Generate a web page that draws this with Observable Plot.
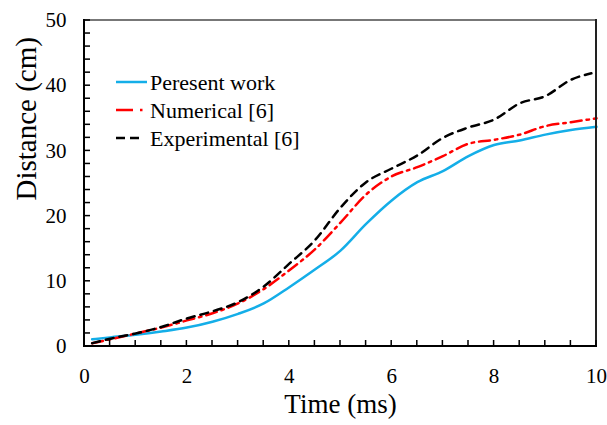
<!DOCTYPE html>
<html>
<head>
<meta charset="utf-8">
<script src="https://cdn.jsdelivr.net/npm/d3@7"></script>
<script src="https://cdn.jsdelivr.net/npm/@observablehq/plot@0.6"></script>
<style>
  html, body { margin: 0; padding: 0; background: #fff; }
</style>
</head>
<body>
<div id="chart"></div>
<script>
// ---- data ----
const seriesNames = ["Peresent work", "Numerical [6]", "Experimental [6]"];

const presentTime = [0.15, 0.5, 1, 1.5, 2, 2.5, 3, 3.5, 4, 4.5, 5, 5.5, 6, 6.5, 7, 7.5, 8, 8.5, 9, 9.5, 10];
const presentDist = [1.1, 1.4, 1.8, 2.3, 2.9, 3.8, 5.0, 6.6, 9.1, 11.8, 14.7, 18.8, 22.4, 25.2, 26.9, 29.2, 30.9, 31.6, 32.5, 33.2, 33.7];

const numericalTime = [0.15, 0.5, 1, 1.5, 2, 2.5, 3, 3.5, 4, 4.5, 5, 5.5, 6, 6.5, 7, 7.5, 8, 8.5, 9, 9.5, 10];
const numericalDist = [0.5, 1.1, 2.0, 2.9, 4.0, 5.1, 6.6, 8.8, 11.7, 14.9, 19.0, 23.3, 26.1, 27.5, 29.2, 31.1, 31.7, 32.5, 33.8, 34.4, 35.0];

const experimentalTime = [0.15, 0.5, 1, 1.5, 2, 2.5, 3, 3.5, 4, 4.5, 5, 5.5, 6, 6.5, 7, 7.5, 8, 8.5, 9, 9.5, 9.9];
const experimentalDist = [0.5, 1.2, 2.0, 3.0, 4.3, 5.4, 6.8, 9.2, 12.7, 16.3, 21.3, 25.2, 27.3, 29.3, 32.0, 33.6, 34.8, 37.3, 38.4, 40.9, 41.9];

const xTicks = [0, 2, 4, 6, 8, 10];
const yTicks = [0, 10, 20, 30, 40, 50];
const xMinor = d3.range(0, 10.01, 0.5);
const yMinor = d3.range(0, 50.01, 2);
const xLabel = "Time (ms)";
const yLabel = "Distance (cm)";

// ---- table ----
const toRows = (ts, vs) => ts.map((t, i) => ({t, d: vs[i]}));
const present = toRows(presentTime, presentDist);
const numerical = toRows(numericalTime, numericalDist);
const experimental = toRows(experimentalTime, experimentalDist);

// ---- layout ----
const W = 607, H = 425;
const mL = 84, mR = 11, mT = 20, mB = 79;
const font = "'Liberation Serif', 'Times New Roman', serif";
const xDomain = [0, 10], yDomain = [0, 50];

const blue = "#14aee8", red = "#ff0000", black = "#000000";

const chart = Plot.plot({
  width: W,
  height: H,
  marginLeft: mL,
  marginRight: mR,
  marginTop: mT,
  marginBottom: mB,
  style: {fontFamily: font, fontSize: "21px", color: "#000", background: "#fff"},
  x: {domain: xDomain},
  y: {domain: yDomain},
  marks: [
    Plot.line(present, {x: "t", y: "d", stroke: blue, strokeWidth: 2.5, curve: "monotone-x"}),
    Plot.line(numerical, {x: "t", y: "d", stroke: red, strokeWidth: 2.5, strokeDasharray: "11,5,2.5,5", curve: "monotone-x"}),
    Plot.line(experimental, {x: "t", y: "d", stroke: black, strokeWidth: 2.5, strokeDasharray: "8,6", curve: "monotone-x"}),
    Plot.axisX({ticks: xTicks, tickSize: 0, tickPadding: 22, label: null, fontSize: 21}),
    Plot.axisY({ticks: yTicks, tickSize: 0, tickPadding: 18, label: null, fontSize: 21}),
    Plot.text([xLabel], {frameAnchor: "bottom", dy: 66, fontSize: 27, text: d => d}),
    Plot.text([yLabel], {frameAnchor: "left", dx: -58, dy: 17, rotate: -90, fontSize: 29, text: d => d})
  ]
});

// frame, axis lines and inward ticks as thin filled rectangles, placed with scales matching Plot's
const X = d3.scaleLinear(xDomain, [mL, W - mR]);
const Y = d3.scaleLinear(yDomain, [H - mB, mT]);
const root = d3.select(chart);
const bar = (x, y, w, h, color) =>
  root.append("rect").attr("x", x).attr("y", y).attr("width", w).attr("height", h)
    .attr("fill", color).attr("stroke", "none");

const L = X(xDomain[0]), R = X(xDomain[1]), T = Y(yDomain[1]), B = Y(yDomain[0]);
bar(L, T - 1, R - L + 1, 2, "#777");          // top border
bar(R - 1, T - 1, 2, B - T + 2, "#222");      // right border
for (const v of yMinor) bar(L, Y(v) - 0.75, 6, 1.5, "#000");
for (const v of xMinor) bar(X(v) - 0.75, B - 6, 1.5, 6, "#000");
bar(L - 1, T - 1, 2, B - T + 2, "#000");      // left axis
bar(L - 1, B - 1, R - L + 2, 2, "#000");      // bottom axis

// legend inside the plot
const legendItems = [
  {name: seriesNames[0], color: blue, x2: 147, dash: null, y: 82},
  {name: seriesNames[1], color: red, x2: 143, dash: "17,7,2.5,20", y: 110},
  {name: seriesNames[2], color: black, x2: 140, dash: "9,5", y: 138}
];
const lg = root.append("g").attr("class", "legend").attr("text-anchor", "start");
for (const it of legendItems) {
  lg.append("line")
    .attr("x1", 116).attr("x2", it.x2)
    .attr("y1", it.y).attr("y2", it.y)
    .attr("stroke", it.color).attr("stroke-width", 2.5)
    .attr("stroke-dasharray", it.dash);
  lg.append("text")
    .attr("x", 150).attr("y", it.y).attr("dy", "0.35em")
    .attr("text-anchor", "start")
    .attr("font-family", font)
    .attr("font-size", 22).attr("fill", "#000")
    .text(it.name);
}

document.getElementById("chart").appendChild(chart);
</script>
</body>
</html>
